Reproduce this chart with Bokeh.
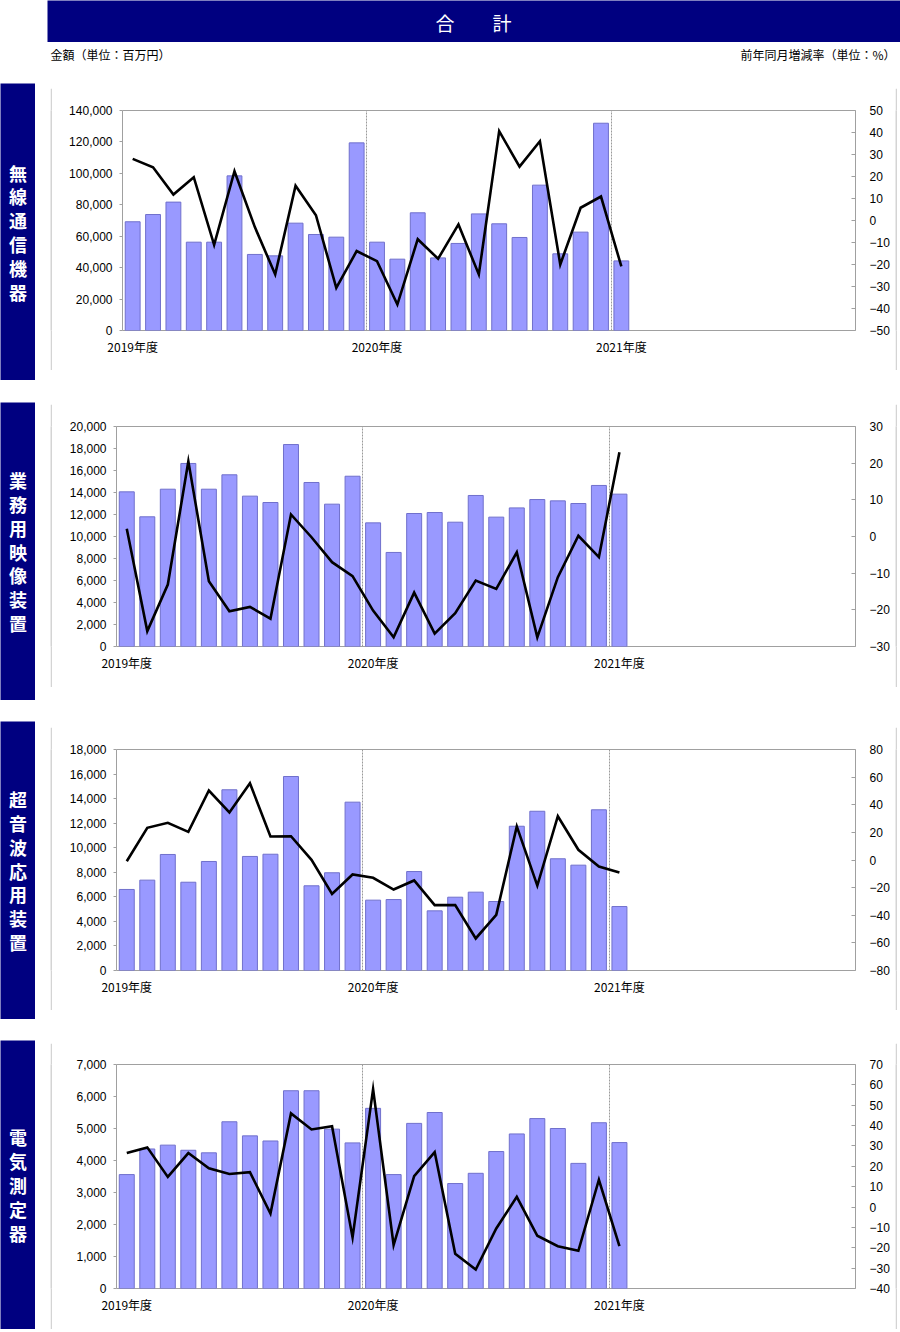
from bokeh.plotting import figure
from bokeh.models import (Range1d, LinearAxis, SingleIntervalTicker, FixedTicker,
                          NumeralTickFormatter, Spacer)
from bokeh.layouts import column, row
from bokeh.core.properties import value
from bokeh.core.validation import silence
from bokeh.core.validation.warnings import MISSING_RENDERERS
from bokeh.embed import file_html
from bokeh.resources import INLINE

silence(MISSING_RENDERERS, True)

# ---------------- data ----------------
title_text = "合　　計"
unit_left = "金額（単位：百万円）"
unit_right = "前年同月増減率（単位：%）"
years = ["2019年度", "2020年度", "2021年度"]
months = list(range(25))  # 2019/4 .. 2021/4

musen_name = "無線通信機器"
musen_amount = [69200, 73800, 81700, 56200, 56200, 98400, 48400, 47500, 68300, 61100, 59400, 119400,
                56200, 45400, 74900, 46200, 55400, 74200, 67900, 59200, 92500, 48800, 62600, 131900,
                44300]
musen_rate = [28.0, 24.2, 11.8, 19.7, -11.1, 22.4, -3.0, -24.5, 15.8, 2.4, -30.6, -13.9,
              -18.5, -38.2, -8.5, -17.4, -1.8, -24.5, 40.6, 24.5, 36.0, -20.0, 5.8, 10.9,
              -20.9]

gyomu_name = "業務用映像装置"
gyomu_amount = [14060, 11790, 14300, 16640, 14300, 15610, 13670, 13090, 18360, 14910, 12940, 15480,
                11240, 8550, 12090, 12180, 11300, 13730, 11760, 12600, 13360, 13240, 13000, 14640,
                13850]
gyomu_rate = [2.1, -25.8, -13.1, 20.5, -12.2, -20.4, -19.2, -22.4, 6.0, -0.2, -7.0, -10.8,
              -20.2, -27.5, -15.3, -26.5, -20.9, -12.0, -14.3, -4.3, -27.5, -11.1, 0.2, -5.6,
              23.0]

chouonpa_name = "超音波応用装置"
chouonpa_amount = [6600, 7360, 9450, 7190, 8880, 14720, 9290, 9470, 15800, 6900, 7960, 13710,
                   5730, 5780, 8060, 4860, 5970, 6380, 5620, 11750, 12970, 9100, 8580, 13090,
                   5210]
chouonpa_rate = [-0.9, 23.3, 26.9, 20.4, 50.3, 34.4, 55.6, 17.0, 17.2, 0.1, -24.5, -10.5,
                 -12.9, -21.4, -14.8, -32.7, -32.7, -56.8, -39.7, 24.3, -18.5, 31.7, 7.4, -4.7,
                 -9.1]

denki_name = "電気測定器"
denki_amount = [3560, 4360, 4480, 4320, 4240, 5210, 4770, 4610, 6180, 6180, 4980, 4550,
                5630, 3560, 5160, 5500, 3280, 3600, 4280, 4830, 5310, 5000, 3910, 5180,
                4560]
denki_rate = [26.5, 29.3, 14.8, 26.5, 19.0, 16.2, 17.1, -3.2, 46.0, 38.1, 39.7, -14.9,
              57.9, -18.7, 15.2, 27.0, -23.0, -30.7, -10.5, 5.0, -14.1, -19.2, -21.5, 13.4,
              -19.2]

# ---------------- style ----------------
NAVY = "#000080"
BAR_FILL = "#9999ff"
BAR_LINE = "#7070cc"
FRAME = "#a0a0a0"
BOX = "#d4d4d4"
NUM_FONT = "Liberation Sans"
JP_FONT = "Noto Sans CJK JP"
PAGE_W = 900
BOX_L, BOX_R = 50, 897
RING = 2


def plain(w, h, bg, xr=None, yr=None):
    p = figure(width=w, height=h, output_backend="svg", toolbar_location=None, title=None,
               x_axis_location=None, y_axis_location=None, min_border=0,
               x_range=xr if xr is not None else Range1d(0, max(w, 1)),
               y_range=yr if yr is not None else Range1d(max(h, 1), 0))
    p.grid.visible = False
    p.outline_line_color = None
    p.background_fill_color = bg
    p.border_fill_color = bg
    return p


def side_bar(name, h):
    p = plain(35, h, NAVY)
    n = len(name)
    ys = [h / 2 + (i - (n - 1) / 2) * 23.8 for i in range(n)]
    p.text(x=[17.5] * n, y=ys, text=list(name), text_align="center", text_baseline="middle",
           text_color="white", text_font=value(JP_FONT), text_font_size="18px",
           text_font_style="bold")
    return p


def chart(amount, rate, amax, astep, rmin, rmax, rstep, box_top, box_bottom,
          fr_top, fr_bottom, fr_left, fr_right):
    ftop, fbot = box_top + RING, box_bottom - RING
    fl, fr = BOX_L + RING, BOX_R - RING
    p = figure(width=fr - fl, height=fbot - ftop,
               x_range=Range1d(-0.5, 35.5), y_range=Range1d(0, amax),
               output_backend="svg", toolbar_location=None, title=None,
               min_border_left=fr_left - fl, min_border_right=fr - fr_right,
               min_border_top=fr_top - ftop, min_border_bottom=fbot - fr_bottom)
    p.outline_line_color = FRAME
    p.outline_line_width = 1
    p.background_fill_color = "white"
    p.border_fill_color = "white"
    p.ygrid.visible = False
    p.xgrid.ticker = FixedTicker(ticks=[11.5, 23.5])
    p.xgrid.grid_line_color = "#9a9a9a"
    p.xgrid.grid_line_dash = "2 1"
    p.xgrid.grid_line_width = 1

    ya = p.yaxis[0]
    ya.ticker = SingleIntervalTicker(interval=astep)
    ya.formatter = NumeralTickFormatter(format="0,0")
    ya.axis_line_color = None
    ya.major_tick_out = 3
    ya.major_tick_in = 0
    ya.major_tick_line_color = FRAME
    ya.minor_tick_line_color = None
    ya.major_label_standoff = 6
    ya.major_label_text_font = NUM_FONT
    ya.major_label_text_font_size = "12px"
    ya.major_label_text_color = "black"

    xa = p.xaxis[0]
    xa.ticker = FixedTicker(ticks=[0, 12, 24])
    xa.major_label_overrides = {0: years[0], 12: years[1], 24: years[2]}
    xa.axis_line_color = None
    xa.major_tick_line_color = None
    xa.minor_tick_line_color = None
    xa.major_tick_out = 0
    xa.major_label_standoff = 7
    xa.major_label_text_font = JP_FONT
    xa.major_label_text_font_size = "12px"
    xa.major_label_text_color = "black"

    p.extra_y_ranges = {"rate": Range1d(rmin, rmax)}
    ra = LinearAxis(y_range_name="rate", ticker=SingleIntervalTicker(interval=rstep))
    ra.axis_line_color = None
    ra.major_tick_out = 0
    ra.major_tick_in = 4
    ra.major_tick_line_color = FRAME
    ra.minor_tick_line_color = None
    ra.major_label_standoff = 10
    ra.major_label_text_font = NUM_FONT
    ra.major_label_text_font_size = "12px"
    ra.major_label_text_color = "black"
    p.add_layout(ra, "right")

    p.vbar(x=months, top=amount, width=0.73, fill_color=BAR_FILL, line_color=BAR_LINE,
           line_width=1)
    p.line(x=months, y=rate, y_range_name="rate", line_color="black", line_width=2.6,
           line_join="miter")

    # light frame ring around the chart box
    h_in = fbot - ftop
    ring_top = plain(BOX_R - BOX_L, RING, BOX)
    ring_bot = plain(BOX_R - BOX_L, RING, BOX)
    ring_l = plain(RING, h_in, BOX)
    ring_r = plain(RING, h_in, BOX)
    return column(ring_top, row(ring_l, p, ring_r, spacing=0), ring_bot, spacing=0)


def block(name, amount, rate, amax, astep, rmin, rmax, rstep,
          blk_top, blk_bot, side_top, side_bot, box_top, box_bot,
          fr_top, fr_bottom, fr_left, fr_right):
    h = blk_bot - blk_top
    left = []
    if side_top > blk_top:
        left.append(Spacer(width=35, height=side_top - blk_top))
    left.append(side_bar(name, side_bot - side_top))
    if blk_bot > side_bot:
        left.append(Spacer(width=35, height=blk_bot - side_bot))
    right = []
    if box_top > blk_top:
        right.append(Spacer(width=BOX_R - BOX_L, height=box_top - blk_top))
    right.append(chart(amount, rate, amax, astep, rmin, rmax, rstep, box_top, box_bot,
                       fr_top, fr_bottom, fr_left, fr_right))
    if blk_bot > box_bot:
        right.append(Spacer(width=BOX_R - BOX_L, height=blk_bot - box_bot))
    return row(column(*left, spacing=0), Spacer(width=BOX_L - 35, height=h),
               column(*right, spacing=0), Spacer(width=PAGE_W - BOX_R, height=h), spacing=0)


# header
head = plain(PAGE_W - 47, 42, NAVY)
head.text(x=[(PAGE_W - 47) / 2 - 0.5], y=[22], text=[title_text], text_align="center",
          text_baseline="middle", text_color="white", text_font=value(JP_FONT),
          text_font_size="19px")
header_row = row(Spacer(width=47, height=42), head, spacing=0)

sub = plain(PAGE_W, 41, "white")
sub.text(x=[50, 895], y=[12, 12], text=[unit_left, unit_right], text_align=["left", "right"],
         text_baseline="middle", text_color="black", text_font=value(JP_FONT),
         text_font_size="12px")

b1 = block(musen_name, musen_amount, musen_rate, 140000, 20000, -50, 50, 10,
           83, 392, 83, 380, 86, 372, 110, 330, 122, 855)
b2 = block(gyomu_name, gyomu_amount, gyomu_rate, 20000, 2000, -30, 30, 10,
           392, 711, 402, 700, 402, 689, 426, 646, 116, 855)
b3 = block(chouonpa_name, chouonpa_amount, chouonpa_rate, 18000, 2000, -80, 80, 20,
           711, 1030, 721, 1019, 725, 1012, 749, 970, 116, 855)
b4 = block(denki_name, denki_amount, denki_rate, 7000, 1000, -40, 70, 10,
           1030, 1332, 1040, 1329, 1041, 1331, 1064, 1288, 116, 855)

layout = column(header_row, sub, b1, b2, b3, b4, spacing=0)
open("out.html", "w").write(file_html(layout, INLINE))
